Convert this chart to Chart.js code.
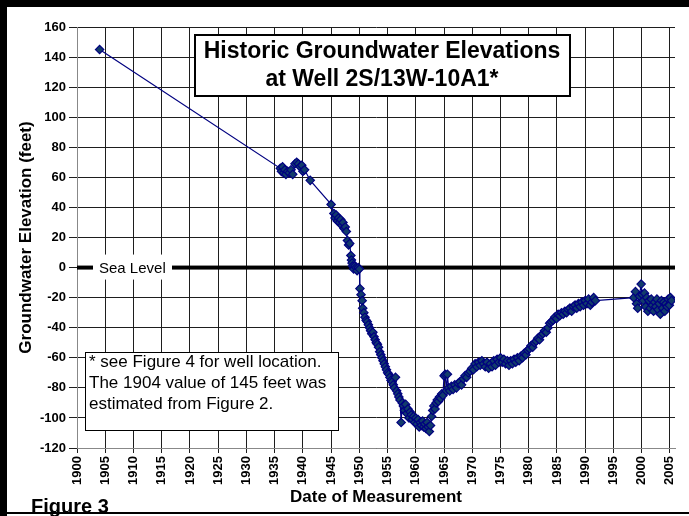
<!DOCTYPE html>
<html>
<head>
<meta charset="utf-8">
<script src="https://cdn.jsdelivr.net/npm/chart.js@4.4.0/dist/chart.umd.min.js"></script>
<style>
    html, body { margin: 0; padding: 0; background: #fff; }
    #wrap { width: 689px; height: 516px; position: relative; }
</style>
</head>
<body>
<div id="wrap"><canvas id="c" width="689" height="516"></canvas></div>
<script>
    'use strict';

    // measurement dates (decimal years) and groundwater elevations (feet)
    var years = [
        1904.0,
        1936.0, 1936.2, 1936.4, 1936.6, 1936.8, 1937.0, 1937.3, 1937.6, 1937.9, 1938.2,
        1938.6, 1938.9, 1939.2, 1939.5, 1939.8, 1940.0, 1940.3, 1941.3,
        1945.0, 1945.5, 1945.7, 1945.9, 1946.1, 1946.3, 1946.5, 1946.7, 1946.9, 1947.1,
        1947.3, 1947.5, 1947.7, 1947.9, 1948.1, 1948.3, 1948.5, 1948.6, 1948.7, 1948.8,
        1949.0, 1949.2, 1949.4, 1949.6, 1949.8, 1950.0,
        1950.1, 1950.3, 1950.5, 1950.6, 1950.8, 1951.0, 1951.2, 1951.4, 1951.6, 1951.8,
        1952.0, 1952.2, 1952.4, 1952.6, 1952.8, 1953.0, 1953.2, 1953.4, 1953.6, 1953.8,
        1954.0, 1954.2, 1954.4, 1954.6, 1954.8, 1955.0, 1955.2, 1955.4, 1955.6, 1955.8,
        1956.0, 1956.2, 1956.4, 1956.6, 1956.8, 1957.0, 1957.2, 1957.4, 1957.6, 1957.8,
        1958.0, 1958.2, 1958.4, 1958.6, 1958.8, 1959.0, 1959.2, 1959.4, 1959.6, 1959.8,
        1960.0, 1960.2, 1960.4, 1960.6, 1960.8, 1961.0, 1961.2, 1961.4, 1961.6, 1961.8,
        1962.0, 1962.2, 1962.4, 1962.6, 1962.8, 1963.0, 1963.2, 1963.4, 1963.6, 1963.8,
        1964.0, 1964.2, 1964.4, 1964.6, 1964.8, 1965.0, 1965.2, 1965.4, 1965.6, 1965.8,
        1966.0, 1966.3, 1966.6, 1966.9, 1967.2, 1967.5, 1967.8, 1968.1, 1968.4, 1968.7,
        1969.0, 1969.3, 1969.6, 1969.9, 1970.2, 1970.5, 1970.8, 1971.1, 1971.4, 1971.7,
        1972.0, 1972.3, 1972.6, 1972.9, 1973.2, 1973.5, 1973.8, 1974.1, 1974.4, 1974.7,
        1975.0, 1975.3, 1975.6, 1975.9, 1976.2, 1976.5, 1976.8, 1977.1, 1977.4, 1977.7,
        1978.0, 1978.3, 1978.6, 1978.9, 1979.2, 1979.5, 1979.8, 1980.1, 1980.4, 1980.7,
        1981.0, 1981.3, 1981.6, 1981.9, 1982.2, 1982.5, 1982.8, 1983.1, 1983.4, 1983.7,
        1984.0, 1984.3, 1984.6, 1984.9, 1985.2, 1985.5, 1985.8, 1986.1, 1986.4, 1986.7,
        1987.0, 1987.3, 1987.6, 1987.9, 1988.2, 1988.5, 1988.8, 1989.1, 1989.4, 1989.7,
        1990.0, 1990.3, 1990.6, 1990.9, 1991.2, 1991.5, 1991.8,
        1998.6, 1998.9, 1999.1, 1999.3, 1999.6, 1999.9, 2000.1, 2000.3, 2000.5, 2000.7,
        2000.9, 2001.1, 2001.3, 2001.5, 2001.7, 2001.9, 2002.1, 2002.3, 2002.5, 2002.7,
        2002.9, 2003.1, 2003.3, 2003.5, 2003.7, 2003.9, 2004.1, 2004.3, 2004.5, 2004.7,
        2004.9, 2005.1, 2005.3
    ];

    var elevations = [
        145,
        66, 64, 67, 63, 65, 62, 64, 63, 65, 62,
        69, 70, 69, 67, 68, 64, 65, 58,
        42, 36, 33, 35, 31, 33, 30, 32, 28, 30,
        26, 27, 24, 18, 15, 16, 8, 5, 3, 1,
        -1, 1, 0, -2, 0, -1,
        -14, -18, -22, -27, -30, -33, -35, -36, -38, -40,
        -42, -44, -43, -46, -48, -50, -51, -53, -56, -58,
        -60, -62, -64, -66, -68, -70, -71, -73, -75, -76,
        -78, -80, -73, -82, -84, -86, -88, -103, -90, -92,
        -95, -91, -97, -94, -100, -96, -98, -101, -99, -103,
        -100, -104, -101, -106, -103, -105, -102, -106, -104, -107,
        -103, -106, -109, -105, -99, -95, -92, -94, -90, -88,
        -89, -86, -87, -84, -85, -72, -71, -82, -71, -80,
        -82, -79, -81, -78, -80, -77, -76, -78, -74, -72,
        -73, -70, -69, -67, -68, -64, -66, -63, -65, -62,
        -64, -66, -63, -67, -64, -66, -62, -65, -61, -63,
        -60, -63, -61, -64, -62, -65, -62, -64, -61, -63,
        -60, -62, -59, -60, -57, -58, -55, -54, -52, -53,
        -50, -49, -47, -48, -45, -44, -42, -43, -40, -37,
        -36, -35, -33, -34, -31, -32, -30, -31, -29, -30,
        -28, -27, -29, -26, -25, -27, -24, -26, -23, -25,
        -22, -24, -21, -25, -23, -20, -22,
        -20, -16, -24, -27, -19, -11, -18, -22, -17, -26,
        -20, -29, -22, -27, -21, -25, -29, -23, -26, -21,
        -28, -24, -31, -22, -27, -23, -29, -24, -26, -21,
        -25, -20, -22
    ];

    var xTickYears = [1900, 1905, 1910, 1915, 1920, 1925, 1930, 1935, 1940, 1945, 1950,
        1955, 1960, 1965, 1970, 1975, 1980, 1985, 1990, 1995, 2000, 2005];
    var yTickValues = [-120, -100, -80, -60, -40, -20, 0, 20, 40, 60, 80, 100, 120, 140, 160];

    var titleLines = ['Historic Groundwater Elevations', 'at Well 2S/13W-10A1*'];
    var noteLines = ['* see Figure 4 for well location.', 'The 1904 value of 145 feet was', 'estimated from Figure 2.'];
    var seaLevelLabel = 'Sea Level';
    var yTitle = 'Groundwater Elevation (feet)';
    var xTitle = 'Date of Measurement';
    var figureLabel = 'Figure 3';

    var FONT = 'Arial, "Liberation Sans", sans-serif';

    var points = [];
    for (var i = 0; i < years.length; i++) {
        points.push({ x: years[i], y: elevations[i] });
    }

    // 叠加层：海平面、标题框、注释框、外框
    var decorPlugin = {
        id: 'decor',
        beforeDraw: function (chart) {
            var ctx = chart.ctx;
            ctx.save();
            ctx.fillStyle = '#fff';
            ctx.fillRect(0, 0, chart.width, chart.height);
            ctx.restore();
        },
        beforeDatasetsDraw: function (chart) {
            var ctx = chart.ctx;
            var area = chart.chartArea;
            var y0 = chart.scales.y.getPixelForValue(0);
            ctx.save();
            ctx.fillStyle = '#000';
            ctx.fillRect(area.left, y0 - 2, area.right - area.left, 4);
            // sea level label
            ctx.fillStyle = '#fff';
            ctx.fillRect(93, y0 - 13, 79, 25);
            ctx.fillStyle = '#000';
            ctx.font = '15px ' + FONT;
            ctx.textBaseline = 'alphabetic';
            ctx.textAlign = 'left';
            ctx.fillText(seaLevelLabel, 99, y0 + 5.5);
            ctx.restore();
        },
        afterDraw: function (chart) {
            var ctx = chart.ctx;
            var area = chart.chartArea;
            ctx.save();

            // title box
            ctx.fillStyle = '#fff';
            ctx.fillRect(195, 35, 375, 61);
            ctx.strokeStyle = '#000';
            ctx.lineWidth = 2;
            ctx.strokeRect(195, 35, 375, 61);
            ctx.fillStyle = '#000';
            ctx.font = 'bold 23px ' + FONT;
            ctx.textAlign = 'center';
            ctx.textBaseline = 'alphabetic';
            ctx.fillText(titleLines[0], 382, 58);
            ctx.fillText(titleLines[1], 382, 86);

            // note box
            ctx.fillStyle = '#fff';
            ctx.fillRect(85, 352, 253, 78);
            ctx.lineWidth = 1;
            ctx.strokeRect(85.5, 352.5, 253, 78);
            ctx.fillStyle = '#000';
            ctx.font = '17px ' + FONT;
            ctx.textAlign = 'left';
            ctx.fillText(noteLines[0], 89, 367);
            ctx.fillText(noteLines[1], 89, 388);
            ctx.fillText(noteLines[2], 89, 409);

            // axis titles
            ctx.font = 'bold 17px ' + FONT;
            ctx.textAlign = 'center';
            ctx.textBaseline = 'middle';
            ctx.fillText(xTitle, (area.left + area.right) / 2, 497);
            ctx.save();
            ctx.translate(26, (area.top + area.bottom) / 2);
            ctx.rotate(-Math.PI / 2);
            ctx.fillText(yTitle, 0, 0);
            ctx.restore();

            // figure label
            ctx.font = 'bold 20px ' + FONT;
            ctx.textAlign = 'left';
            ctx.textBaseline = 'alphabetic';
            ctx.fillText(figureLabel, 31, 513);

            // outer frame
            ctx.fillStyle = '#000';
            ctx.fillRect(0, 0, chart.width, 7);
            ctx.fillRect(0, 0, 7, chart.height);
            ctx.fillRect(0, 512, chart.width, 2);
            ctx.restore();
        }
    };

    var ctx = document.getElementById('c').getContext('2d');
    new Chart(ctx, {
        type: 'scatter',
        data: {
            datasets: [{
                label: 'Groundwater elevation',
                data: points,
                showLine: true,
                borderColor: '#000080',
                borderWidth: 1.2,
                pointStyle: 'rectRot',
                pointRadius: 4.2,
                pointBackgroundColor: '#123c6b',
                pointBorderColor: '#000080',
                pointBorderWidth: 1.2
            }]
        },
        options: {
            responsive: false,
            animation: false,
            layout: { padding: { left: 0, top: 27, right: 14, bottom: 0 } },
            plugins: {
                legend: { display: false },
                tooltip: { enabled: false }
            },
            scales: {
                x: {
                    type: 'linear',
                    min: 1900,
                    max: 2005.9,
                    afterBuildTicks: function (scale) {
                        scale.ticks = xTickYears.map(function (v) { return { value: v }; });
                    },
                    afterFit: function (scale) { scale.height = 68; },
                    grid: { color: '#1e1e1e', lineWidth: 1, tickLength: 5, tickColor: '#1e1e1e' },
                    border: { color: '#888', width: 1 },
                    ticks: {
                        color: '#000',
                        font: { family: FONT, size: 13, weight: 'bold' },
                        minRotation: 90,
                        maxRotation: 90,
                        padding: 3,
                        autoSkip: false,
                        callback: function (v) { return String(v); }
                    }
                },
                y: {
                    min: -120,
                    max: 160,
                    afterBuildTicks: function (scale) {
                        scale.ticks = yTickValues.map(function (v) { return { value: v }; });
                    },
                    afterFit: function (scale) { scale.width = 77; },
                    grid: { color: '#1e1e1e', lineWidth: 1, tickLength: 8, tickColor: '#1e1e1e' },
                    border: { color: '#888', width: 1 },
                    ticks: {
                        color: '#000',
                        font: { family: FONT, size: 13, weight: 'bold' },
                        padding: 3,
                        autoSkip: false,
                        callback: function (v) { return String(v); }
                    }
                }
            }
        },
        plugins: [decorPlugin]
    });
</script>
</body>
</html>
